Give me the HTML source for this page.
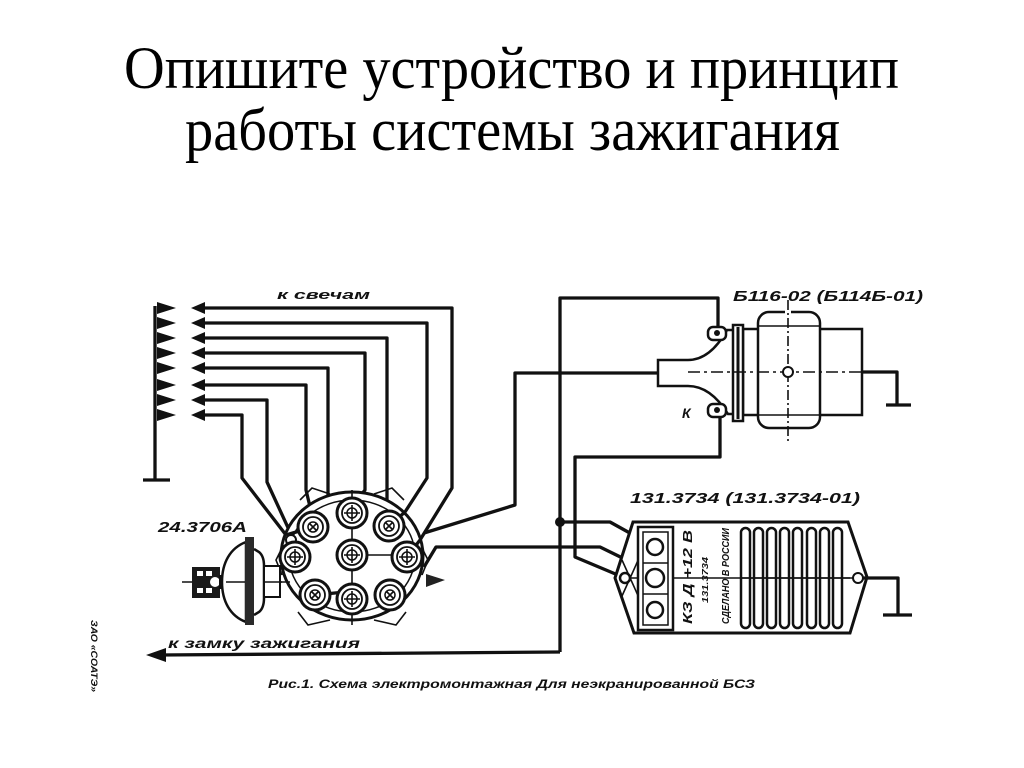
<!DOCTYPE html>
<html><head><meta charset="utf-8"><style>
html,body{margin:0;padding:0;background:#fff;}
svg{display:block;}
.t{font-family:"Liberation Serif","Noto Serif CJK SC",serif;fill:#000;}
.l{font-family:"Liberation Sans","DejaVu Sans",sans-serif;font-weight:bold;font-style:italic;fill:#111;}
.w{fill:none;stroke:#111;stroke-width:3.3;stroke-linejoin:round;}
.th{fill:none;stroke:#111;stroke-width:1.6;}
</style></head><body>
<svg width="1024" height="768" viewBox="0 0 1024 768" xmlns="http://www.w3.org/2000/svg">
<rect width="1024" height="768" fill="#fff"/>
<text class="t" x="124" y="88" font-size="60" textLength="775" lengthAdjust="spacingAndGlyphs">Опишите устройство и принцип</text>
<text class="t" x="185" y="150" font-size="60" textLength="655" lengthAdjust="spacingAndGlyphs">работы системы зажигания</text>

<!-- labels -->
<text class="l" x="277" y="299" font-size="13" textLength="93" lengthAdjust="spacingAndGlyphs">к свечам</text>
<text class="l" x="733" y="301" font-size="15" textLength="190" lengthAdjust="spacingAndGlyphs">Б116-02 (Б114Б-01)</text>
<text class="l" x="158" y="532" font-size="15" textLength="89" lengthAdjust="spacingAndGlyphs">24.3706А</text>
<text class="l" x="630" y="503" font-size="15" textLength="230" lengthAdjust="spacingAndGlyphs">131.3734 (131.3734-01)</text>
<text class="l" x="682" y="418" font-size="14">К</text>
<text class="l" x="168" y="648" font-size="14" textLength="192" lengthAdjust="spacingAndGlyphs">к замку зажигания</text>
<text class="l" x="268" y="688" font-size="12" textLength="487" lengthAdjust="spacingAndGlyphs">Рис.1. Схема электромонтажная Для неэкранированной БСЗ</text>
<text class="l" transform="translate(91,620) rotate(90)" font-size="9" font-style="normal" textLength="72" lengthAdjust="spacingAndGlyphs">ЗАО «СОАТЭ»</text>

<!-- left ground bar with arrows -->
<path class="w" d="M155,306 V480 M143,480 H170"/>
<g fill="#111">
<polygon points="157,302 176,308 157,314"/><polygon points="157,317 176,323 157,329"/>
<polygon points="157,332 176,338 157,344"/><polygon points="157,347 176,353 157,359"/>
<polygon points="157,362 176,368 157,374"/><polygon points="157,379 176,385 157,391"/>
<polygon points="157,394 176,400 157,406"/><polygon points="157,409 176,415 157,421"/>
<polygon points="191,308 205,302 205,314"/><polygon points="191,323 205,317 205,329"/>
<polygon points="191,338 205,332 205,344"/><polygon points="191,353 205,347 205,359"/>
<polygon points="191,368 205,362 205,374"/><polygon points="191,385 205,379 205,391"/>
<polygon points="191,400 205,394 205,406"/><polygon points="191,415 205,409 205,421"/>
</g>
<!-- spark plug wires -->
<path class="w" d="M204,308 H452 V488 L420,540"/>
<path class="w" d="M204,323 H427 V478 L405,512"/>
<path class="w" d="M204,338 H387 V515"/>
<path class="w" d="M204,353 H365 V490 L355,502"/>
<path class="w" d="M204,368 H328 V570 L345,592"/>
<path class="w" d="M204,385 H306 V490 L312,515"/>
<path class="w" d="M204,400 H267 V482 L296,545"/>
<path class="w" d="M204,415 H242 V478 L286,535"/>

<!-- other wires -->
<path class="w" d="M560,652 V298 H718 V328"/>
<path class="w" d="M560,652 L160,655"/>
<polygon points="146,655 166,648 166,662" fill="#111"/>
<circle cx="560" cy="522" r="5" fill="#111"/>
<path class="w" d="M560,522 H610 L637,537"/>
<path class="w" d="M660,373 H515 V505 L424,533"/>
<path class="w" d="M720,415 V457 H575 V557 L625,578"/>
<path class="w" d="M424,567 L436,547 H600 L647,570"/>

<!-- distributor housing -->
<ellipse cx="352" cy="556" rx="71" ry="64" fill="#fff" stroke="#111" stroke-width="3"/>
<ellipse cx="352" cy="556" rx="63" ry="56" fill="none" stroke="#111" stroke-width="1.5"/>
<path class="th" d="M300,500 L312,488 L330,494 M404,500 L392,488 L374,494 M298,612 L308,625 L330,620 M406,612 L396,625 L374,620 M282,548 L276,560 L282,575 M422,548 L428,560 L422,575"/>
<polygon points="426,574 445,580 426,587" fill="#222"/>
<circle cx="291" cy="540" r="5" fill="#fff" stroke="#111" stroke-width="2"/>
<path class="th" d="M352,490 V625 M352,555 H407"/>
<!-- wire ends inside housing -->
<path class="w" d="M420,540 L407,557 M405,512 L390,525 M387,515 V525 M355,502 L352,513 M345,592 L315,595 M312,515 L313,527 M296,545 L295,557 M286,535 L313,527"/>
<!-- caps -->
<g fill="#fff" stroke="#111">
<g stroke-width="3"><circle cx="352" cy="513" r="15"/><circle cx="313" cy="527" r="15"/><circle cx="389" cy="526" r="15"/><circle cx="295" cy="557" r="15"/><circle cx="352" cy="555" r="15"/><circle cx="407" cy="557" r="15"/><circle cx="315" cy="595" r="15"/><circle cx="390" cy="595" r="15"/><circle cx="352" cy="599" r="15"/></g>
<g stroke-width="1.8"><circle cx="352" cy="513" r="10"/><circle cx="313" cy="527" r="10"/><circle cx="389" cy="526" r="10"/><circle cx="295" cy="557" r="10"/><circle cx="352" cy="555" r="10"/><circle cx="407" cy="557" r="10"/><circle cx="315" cy="595" r="10"/><circle cx="390" cy="595" r="10"/><circle cx="352" cy="599" r="10"/></g>
<g stroke-width="1.5"><circle cx="352" cy="513" r="5"/><circle cx="313" cy="527" r="5"/><circle cx="389" cy="526" r="5"/><circle cx="295" cy="557" r="5"/><circle cx="352" cy="555" r="5"/><circle cx="407" cy="557" r="5"/><circle cx="315" cy="595" r="5"/><circle cx="390" cy="595" r="5"/><circle cx="352" cy="599" r="5"/></g>
</g>
<path class="th" d="M344,513 H360 M352,505 V521 M344,555 H360 M352,547 V563 M344,599 H360 M352,591 V607 M287,557 H303 M295,549 V565 M399,557 H415 M407,549 V565 M309,523 L317,531 M317,523 L309,531 M385,522 L393,530 M393,522 L385,530 M311,591 L319,599 M319,591 L311,599 M386,591 L394,599 M394,591 L386,599"/>

<!-- vacuum corrector -->
<path class="th" d="M182,582 H290"/>
<rect x="192" y="567" width="28" height="31" fill="#1a1a1a"/>
<rect x="197" y="571" width="6" height="5" fill="#fff"/><rect x="197" y="588" width="6" height="5" fill="#fff"/>
<rect x="206" y="571" width="6" height="5" fill="#fff"/><rect x="206" y="588" width="6" height="5" fill="#fff"/>
<circle cx="215" cy="582" r="5" fill="#fff"/>
<rect x="220" y="576" width="6" height="12" fill="#fff" stroke="#111" stroke-width="2"/>
<path d="M246,542 C230,548 222,563 222,582 C222,601 230,616 246,622 Z" fill="#fff" stroke="#111" stroke-width="2.5"/>
<path class="th" d="M226,582 H246"/>
<rect x="245" y="537" width="9" height="88" fill="#2a2a2a"/>
<path d="M254,549 L259,552 Q264,556 264,566 L264,598 Q264,608 259,612 L254,615" fill="#fff" stroke="#111" stroke-width="2.5"/>
<rect x="264" y="566" width="16" height="31" fill="#fff" stroke="#111" stroke-width="2"/>
<path class="th" d="M264,582 H282"/>

<!-- ignition coil -->
<rect x="743" y="329" width="119" height="86" fill="#fff" stroke="#111" stroke-width="2.5"/>
<path d="M658,360 L688,360 C705,360 718,346 727,330 L734,330 L734,414 L728,414 C718,398 705,386 688,386 L658,386 Z" fill="#fff" stroke="#111" stroke-width="2.5"/>
<rect x="733" y="325" width="10" height="96" fill="#fff" stroke="#111" stroke-width="2.5"/>
<line x1="738" y1="327" x2="738" y2="419" stroke="#111" stroke-width="3"/>
<rect x="758" y="312" width="62" height="116" rx="11" fill="#fff" stroke="#111" stroke-width="2.5"/>
<path class="th" d="M759,326 H819 M759,415 H819"/>
<rect x="785" y="308" width="6" height="10" fill="#fff"/>
<path d="M788,300 V442" stroke="#111" stroke-width="1.6" stroke-dasharray="10,3,2,3" fill="none"/>
<path d="M688,372 H862" stroke="#111" stroke-width="1.6" stroke-dasharray="12,4,3,4" fill="none"/>
<circle cx="788" cy="372" r="5" fill="#fff" stroke="#111" stroke-width="2"/>
<path class="w" d="M862,372 H897 V405 M886,405 H911"/>
<g fill="#fff" stroke="#111" stroke-width="2.5">
<rect x="708" y="327" width="18" height="13" rx="5"/><rect x="708" y="404" width="18" height="13" rx="5"/>
</g>
<circle cx="717" cy="333" r="3" fill="#111"/><circle cx="717" cy="410" r="3" fill="#111"/>

<!-- switch -->
<polygon points="633,522 848,522 867,577 850,633 634,633 615,578" fill="#fff" stroke="#111" stroke-width="3"/>
<path class="th" d="M625,578 H858 M622,560 L640,600 M622,596 L640,556"/>
<rect x="638" y="527" width="35" height="103" fill="#fff" stroke="#111" stroke-width="2.5"/>
<rect x="643" y="532" width="25" height="93" fill="none" stroke="#111" stroke-width="1.5"/>
<g fill="#fff" stroke="#111" stroke-width="2.5">
<circle cx="655" cy="547" r="8"/><circle cx="655" cy="578" r="9"/><circle cx="655" cy="610" r="8"/>
</g>
<path class="th" d="M643,563 H668 M643,594 H668"/>
<circle cx="625" cy="578" r="5" fill="#fff" stroke="#111" stroke-width="2.5"/>
<text class="l" transform="translate(692,624) rotate(-90)" font-size="13" font-style="normal" textLength="94" lengthAdjust="spacingAndGlyphs">КЗ  Д +12 В</text>
<text class="l" transform="translate(708,603) rotate(-90)" font-size="8" font-style="normal" textLength="46" lengthAdjust="spacingAndGlyphs">131.3734</text>
<text class="l" transform="translate(729,624) rotate(-90)" font-size="10" font-style="normal" textLength="96" lengthAdjust="spacingAndGlyphs">СДЕЛАНО В РОССИИ</text>
<g fill="none" stroke="#111" stroke-width="2.5">
<rect x="741" y="528" width="9" height="100" rx="4.5"/><rect x="754" y="528" width="9" height="100" rx="4.5"/>
<rect x="767" y="528" width="9" height="100" rx="4.5"/><rect x="780" y="528" width="9" height="100" rx="4.5"/>
<rect x="793" y="528" width="9" height="100" rx="4.5"/><rect x="807" y="528" width="9" height="100" rx="4.5"/>
<rect x="820" y="528" width="9" height="100" rx="4.5"/><rect x="833" y="528" width="9" height="100" rx="4.5"/>
</g>
<path class="th" d="M741,578 H850"/>
<circle cx="858" cy="578" r="5" fill="#fff" stroke="#111" stroke-width="2"/>
<path class="w" d="M863,578 H898 V615 M883,615 H912"/>
</svg>
</body></html>
